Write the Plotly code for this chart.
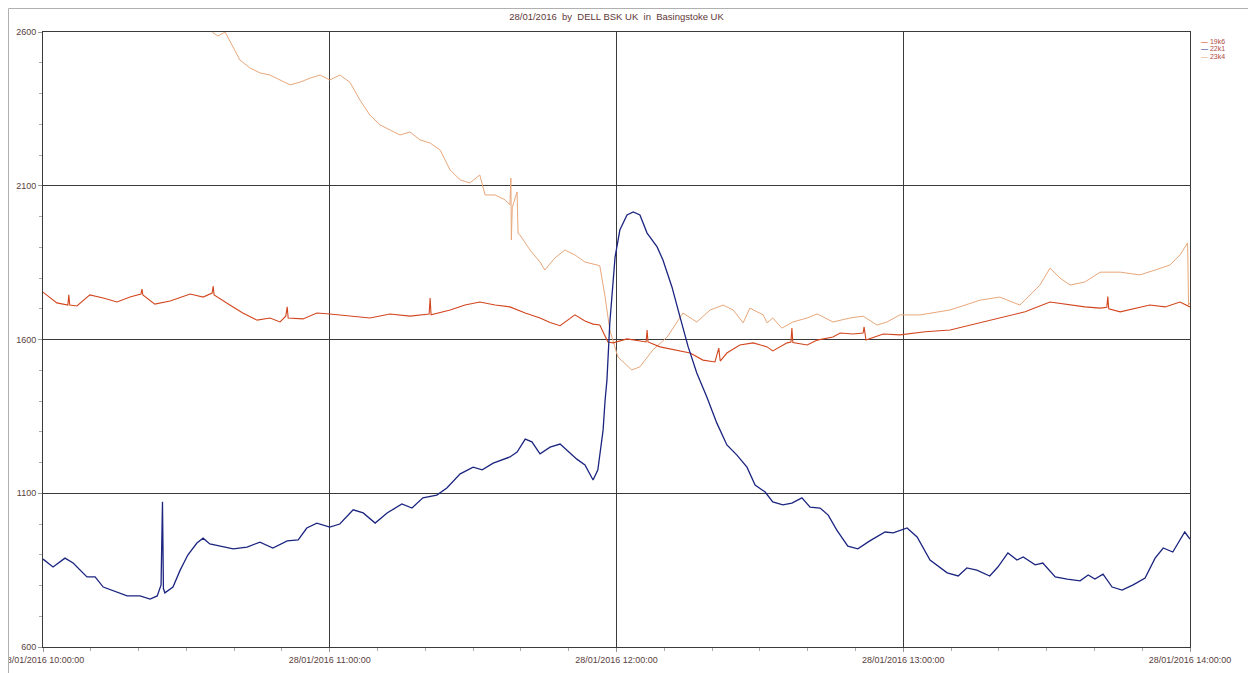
import pandas as pd
import plotly.graph_objects as go

# ---------------- data (minutes after 28/01/2016 10:00:00) ----------------
base_time = "2016-01-28 10:00:00"

t_22k1 = [0, 2.1, 4.6, 6.3, 9.2, 10.9, 12.6, 15.5, 17.6, 20.3, 22.4, 23.9, 24.7, 25.0, 25.2, 25.5,
          27.2, 28.7, 30.3, 32.2, 33.5, 34.9, 37.0, 39.8, 42.7, 45.4, 48.1, 51.1, 53.4, 55.2, 57.3,
          60.0, 62.1, 64.9, 67.0, 69.5, 72.0, 75.1, 77.2, 79.5, 82.4, 84.5, 87.3, 90.0, 91.9, 94.2,
          97.7, 99.2, 100.9, 102.3, 104.0, 106.1, 108.2, 109.9, 111.7, 113.4, 115.1, 116.1, 117.2,
          117.6, 118.0, 118.6, 119.7, 120.7, 122.2, 123.5, 124.9, 126.4, 128.5, 129.7, 131.6, 133.3,
          135.0, 136.8, 138.9, 141.0, 143.1, 145.2, 147.3, 149.0, 151.1, 152.7, 154.8, 156.7, 158.8,
          160.5, 162.6, 164.3, 166.1, 168.4, 170.5, 173.0, 176.2, 177.9, 180.8, 182.9, 185.6, 189.2,
          191.5, 193.3, 195.4, 198.1, 199.8, 201.9, 203.8, 205.1, 207.6, 209.2, 211.8, 214.3, 217.0,
          218.7, 220.1, 221.8, 223.7, 225.8, 228.1, 230.6, 232.7, 234.4, 236.4, 238.9, 240.0]
v_22k1 = [886, 860, 889, 873, 828, 828, 795, 779, 766, 766, 756, 766, 802, 1072, 790, 776,
          795, 850, 899, 938, 954, 935, 928, 919, 925, 941, 922, 945, 948, 987, 1003,
          990, 1000, 1046, 1036, 1003, 1036, 1065, 1052, 1085, 1094, 1117, 1163, 1185, 1176, 1198,
          1218, 1234, 1276, 1267, 1228, 1250, 1260, 1237, 1211, 1192, 1143, 1176, 1306,
          1400, 1468, 1654, 1868, 1956, 2005, 2015, 2005, 1946, 1901, 1859, 1771, 1673,
          1576, 1491, 1413, 1328, 1257, 1224, 1185, 1127, 1104, 1072, 1062, 1068, 1085,
          1055, 1052, 1029, 980, 928, 919, 945, 974, 971, 987, 958, 883, 841,
          831, 857, 850, 831, 860, 906, 883, 893, 867, 873, 828, 821, 815,
          834, 821, 837, 795, 785, 802, 824, 889, 922, 909, 974, 951]

t_19k6 = [0, 2.9, 5.2, 5.4, 5.6, 7.1, 9.8, 12.6, 15.5, 18.2, 20.5, 20.7, 20.9, 23.4, 26.6, 30.8,
          33.5, 35.4, 35.6, 35.8, 39.1, 41.8, 44.8, 47.5, 49.6, 50.8, 51.1, 51.3, 54.4, 57.3, 60.0,
          64.2, 68.4, 72.6, 76.8, 80.8, 81.0, 81.2, 85.2, 88.3, 91.4, 94.6, 97.7, 100.9, 104.0,
          106.1, 108.2, 111.3, 113.4, 115.1, 116.5, 118.2, 119.3, 122.2, 126.2, 126.4, 126.6,
          129.1, 132.7, 135.4, 138.1, 140.6, 141.4, 141.7, 143.1, 145.8, 148.6, 151.5, 152.7,
          155.7, 156.5, 156.7, 156.9, 159.9, 162.0, 165.3, 166.8, 169.5, 171.6, 171.8, 172.2,
          175.8, 179.3, 184.6, 189.8, 195.0, 200.2, 205.5, 210.7, 214.9, 218.0, 221.2, 222.6,
          222.8, 223.0, 225.4, 228.5, 231.6, 234.8, 237.9, 240.0]
v_19k6 = [1754, 1719, 1712, 1745, 1712, 1709, 1745, 1735, 1722, 1738, 1748, 1764, 1745, 1715, 1725, 1748,
          1738, 1751, 1774, 1745, 1712, 1686, 1663, 1670, 1657, 1676, 1706, 1670, 1667, 1686, 1683,
          1676, 1670, 1683, 1676, 1683, 1735, 1680, 1696, 1712, 1722, 1712, 1706, 1686, 1670,
          1655, 1645, 1680, 1660, 1650, 1647, 1592, 1589, 1602, 1592, 1631, 1592,
          1576, 1566, 1556, 1533, 1527, 1572, 1530, 1556, 1582, 1589, 1576, 1563,
          1589, 1592, 1637, 1590, 1582, 1598, 1608, 1621, 1618, 1621, 1641, 1598,
          1618, 1615, 1625, 1631, 1650, 1670, 1690, 1722, 1712, 1706, 1702, 1705,
          1740, 1700, 1690, 1702, 1712, 1706, 1722, 1706]

t_23k4 = [34.9, 35.6, 36.6, 38.1, 41.2, 43.3, 45.4, 47.5, 49.6, 51.7, 53.8, 55.9, 58.0, 60.0,
          62.1, 64.2, 66.3, 68.4, 70.5, 72.6, 74.7, 76.8, 78.9, 81.0, 83.1, 85.2, 87.3, 89.3,
          91.4, 92.5, 94.6, 96.7, 97.7, 97.9, 98.0, 98.2, 99.2, 99.4, 99.8, 101.9, 104.0, 105.0,
          107.1, 109.2, 111.3, 113.4, 115.5, 116.5, 117.6, 118.6, 120.3, 123.2, 124.9, 127.6,
          130.6, 133.9, 136.8, 139.6, 142.3, 144.4, 146.5, 147.9, 150.7, 151.5, 152.7, 154.6,
          156.9, 159.9, 162.0, 165.3, 168.9, 171.6, 174.5, 176.6, 179.3, 183.5, 189.8, 196.1,
          200.2, 204.4, 208.6, 210.7, 212.8, 214.9, 218.0, 221.2, 225.4, 229.5, 232.7, 235.8,
          237.9, 239.5, 239.7, 240.0]
v_23k4 = [2615, 2597, 2587, 2600, 2509, 2483, 2467, 2460, 2444, 2428, 2437, 2450, 2460, 2444,
          2460, 2437, 2379, 2330, 2298, 2281, 2265, 2275, 2249, 2239, 2216, 2151, 2119, 2109,
          2135, 2070, 2070, 2054, 2038, 2125, 1924, 2030, 2080, 1945, 1940, 1891, 1852, 1826,
          1865, 1891, 1875, 1852, 1845, 1840, 1740, 1631, 1543, 1501, 1511, 1566,
          1608, 1686, 1657, 1696, 1712, 1696, 1654, 1702, 1680, 1654, 1670, 1637,
          1657, 1670, 1683, 1657, 1670, 1676, 1647, 1657, 1680, 1680, 1696, 1728,
          1738, 1712, 1777, 1832, 1800, 1777, 1787, 1819, 1819, 1810, 1826, 1842,
          1875, 1914, 1712, 1720]

series_names = ["19k6", "22k1", "23k4"]
series_colors = ["#d2461e", "#1b2580", "#e8a77a"]

y_major = [600, 1100, 1600, 2100, 2600]
x_major_hours = ["10:00:00", "11:00:00", "12:00:00", "13:00:00", "14:00:00"]
title_text = "28/01/2016\u00a0\u00a0by\u00a0\u00a0DELL BSK UK\u00a0\u00a0in\u00a0\u00a0Basingstoke UK"

# ---------------- figure ----------------
base = pd.Timestamp(base_time)


def to_time(mins):
    return [base + pd.Timedelta(minutes=m) for m in mins]


fig = go.Figure()
for name, color, t, v, w in [
    ("23k4", series_colors[2], t_23k4, v_23k4, 1.0),
    ("19k6", series_colors[0], t_19k6, v_19k6, 1.1),
    ("22k1", series_colors[1], t_22k1, v_22k1, 1.3),
]:
    fig.add_trace(go.Scatter(x=to_time(t), y=v, mode="lines", name=name,
                             line=dict(color=color, width=w), showlegend=False))

text_col = "#5a4040"
grid_col = "#3a3a3a"
x_ticks = [pd.Timestamp("2016-01-28 " + h) for h in x_major_hours]

# the page body adds an 8px offset; the figure fills the rest of the window
W, H = 1248, 665
L, T, R, B = 35, 24, 66, 26
PW, PH = W - L - R, H - T - B

fig.update_layout(
    width=W, height=H,
    margin=dict(l=L, r=R, t=T, b=B, autoexpand=False),
    paper_bgcolor="white", plot_bgcolor="white",
    font=dict(family="Liberation Sans, Arial, sans-serif", size=9, color=text_col),
    title=dict(text=title_text, x=0.5, xref="paper", xanchor="center",
               y=1 - 9 / H, yref="container", yanchor="middle",
               font=dict(size=9.5, color="#603838")),
    showlegend=False,
)
fig.update_xaxes(
    type="date", range=[x_ticks[0], x_ticks[-1]], automargin=False,
    tickvals=x_ticks, tickformat="%d/%m/%Y %H:%M:%S", ticklabeloverflow="allow",
    showgrid=True, gridcolor=grid_col, gridwidth=1,
    showline=True, linecolor=grid_col, linewidth=1, mirror=True,
    ticks="outside", ticklen=4, tickcolor="#999999",
    minor=dict(dtick=600000, ticks="outside", ticklen=3, tickcolor="#aaaaaa", showgrid=False),
    zeroline=False,
)
fig.update_yaxes(
    range=[600, 2600], tickvals=y_major, automargin=False,
    showgrid=True, gridcolor=grid_col, gridwidth=1,
    showline=True, linecolor=grid_col, linewidth=1, mirror=True,
    ticks="outside", ticklen=4, tickcolor="#999999",
    minor=dict(tick0=600, dtick=100, ticks="outside", ticklen=3, tickcolor="#aaaaaa", showgrid=False),
    zeroline=False,
)

# outer frame of the page (top and left edges)
fig.add_shape(type="line", xref="paper", yref="paper",
              x0=(0.5 - L) / PW, x1=(W - L) / PW, y0=1 + (T - 0.5) / PH, y1=1 + (T - 0.5) / PH,
              line=dict(color="#b0b0b0", width=1))
fig.add_shape(type="line", xref="paper", yref="paper",
              x0=(0.5 - L) / PW, x1=(0.5 - L) / PW, y0=1 + (T - 0.5) / PH, y1=-B / PH,
              line=dict(color="#b0b0b0", width=1))

# compact legend (top right)
for i, (name, color) in enumerate(zip(series_names, series_colors)):
    fig.add_annotation(
        xref="paper", yref="paper", x=(1199 - 43) / PW, y=1 - (9 + 7.5 * i) / PH,
        xanchor="left", yanchor="middle", showarrow=False,
        text=f"<span style='color:{color}'>\u2014</span> {name}",
        font=dict(size=7, color="#b04a40"),
    )

fig.write_html("out.html")
